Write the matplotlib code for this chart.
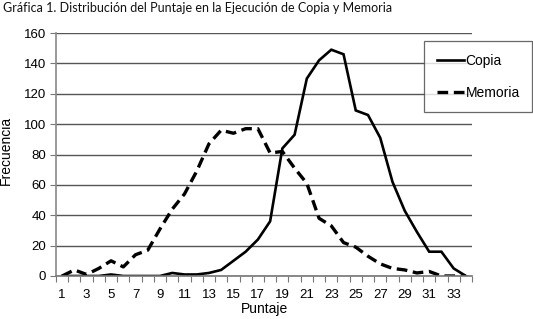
import matplotlib
matplotlib.use("Agg")
import matplotlib.pyplot as plt
from matplotlib.lines import Line2D

puntaje = list(range(1, 35))
copia = [0, 0, 0, 0, 1, 0, 0, 0, 0, 2, 1, 1, 2, 4, 10, 16, 24, 36, 84, 93,
         130, 142, 149, 146, 109, 106, 91, 62, 43, 29, 16, 16, 5, 0]
memoria = [0, 4, 1, 5, 10, 6, 14, 17, 31, 44, 54, 69, 87, 96, 94, 97, 97, 81, 82, 71,
           61, 38, 33, 22, 19, 13, 8, 5, 4, 2, 3, 0, 0, 0]
xtick_labels = [str(k) for k in range(1, 35, 2)]
yticks = list(range(0, 161, 20))

plt.rcParams['font.family'] = ['Liberation Sans', 'DejaVu Sans']

fig = plt.figure(figsize=(5.33, 3.19), dpi=100)
ax = fig.add_axes([56/533, 1-276/319, (472-56)/533, (276-33)/319])

ax.plot(puntaje, copia, color='black', lw=1.9, solid_joinstyle='miter')
ax.plot(puntaje, memoria, color='black', lw=2.4, dashes=(3.2, 1.7))

ax.set_xlim(0.5, 34.5)
ax.set_ylim(0, 160)
ax.set_yticks(yticks)
ax.set_yticklabels([str(v) for v in yticks], fontsize=9.5)
ax.yaxis.grid(True, color='#555555', lw=1.0)
ax.set_axisbelow(True)

ax.set_xticks([k + 0.5 for k in range(0, 35)])
ax.set_xticklabels([])
ax.set_xticks(list(range(1, 35, 2)), minor=True)
ax.set_xticklabels(xtick_labels, minor=True, fontsize=9.5)
ax.tick_params(axis='x', which='major', length=4, color='#777777', direction='out')
ax.tick_params(axis='x', which='minor', length=0, pad=9)
ax.tick_params(axis='y', length=4, color='#777777', pad=3)

for s in ['top', 'right']:
    ax.spines[s].set_visible(False)
ax.spines['left'].set_color('#888888')
ax.spines['bottom'].set_color('#777777')
ax.spines['left'].set_linewidth(1.2)
ax.spines['bottom'].set_linewidth(1.2)

fig.text(265/533, 1-309/319, 'Puntaje', ha='center', va='center', fontsize=10)
fig.text(6/533, 1-150/319, 'Frecuencia', ha='center', va='center', rotation=90, fontsize=10)
fig.text(3/533, 1-8/319, 'Gráfica 1. Distribución del Puntaje en la Ejecución de Copia y Memoria',
         ha='left', va='center', fontsize=9.0, family=['Lato', 'DejaVu Sans'], color='#111111')

handles = [Line2D([], [], color='black', lw=1.9),
           Line2D([], [], color='black', lw=2.4, dashes=(3.2, 1.7))]
leg = fig.legend(handles, ['Copia', 'Memoria'], loc='upper left',
                 bbox_to_anchor=(424/533, 1-41/319), frameon=True, fancybox=False,
                 edgecolor='#444444', fontsize=10, handlelength=2.0, handletextpad=0.1,
                 labelspacing=1.3, borderpad=0.9, borderaxespad=0)
leg.get_frame().set_linewidth(0.9)

fig.savefig('out.png', dpi=100)
